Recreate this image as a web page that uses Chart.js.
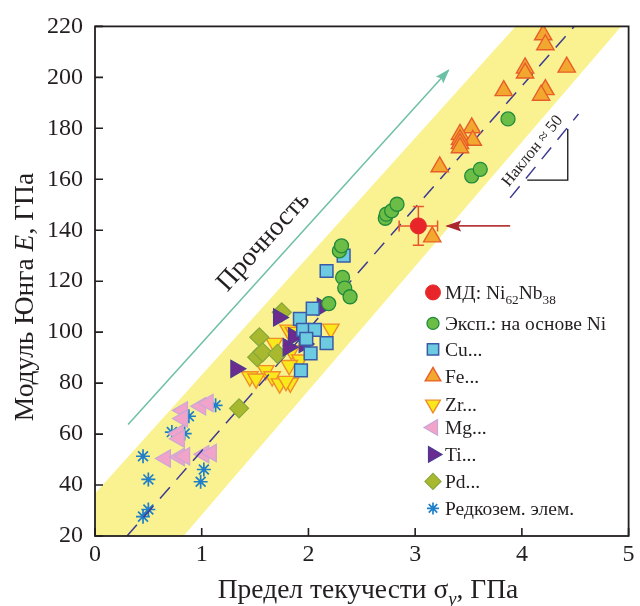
<!DOCTYPE html>
<html>
<head>
<meta charset="utf-8">
<script src="https://cdn.jsdelivr.net/npm/chart.js@4.4.1/dist/chart.umd.min.js"></script>
<style>
  html, body { margin: 0; padding: 0; background: #fff; }
</style>
</head>
<body>
<canvas id="chart" width="640" height="606"></canvas>
<script>
// Модуль Юнга vs предел текучести

const FONT = "'Liberation Serif', 'Times New Roman', serif";
const INK = '#231f20';

// оси
const xTicks = [0, 1, 2, 3, 4, 5];
const yTicks = [20, 40, 60, 80, 100, 120, 140, 160, 180, 200, 220];

// МД: Ni62Nb38 (с погрешностью)
const mdX = [3.03];
const mdY = [141.7];
const mdErrX = [0.18];
const mdErrY = [7.6];

// эксперимент, сплавы на основе Ni
const niX = [2.19, 2.29, 2.31, 2.32, 2.34, 2.39, 2.72, 2.73, 2.78, 2.83, 3.53, 3.61, 3.87];
const niY = [111.2, 131.9, 133.9, 121.5, 117.3, 113.9, 144.7, 146.3, 147.6, 150.2, 161.3, 163.9, 183.7];

// Cu
const cuX = [2.33, 2.17, 2.04, 1.92, 1.95, 2.06, 1.98, 2.17, 2.02, 1.93];
const cuY = [130, 124, 109.2, 105.2, 100.9, 100.9, 97.4, 95.7, 91.7, 85];

// Fe
const feX = [4.20, 4.22, 4.03, 4.03, 4.42, 3.83, 4.22, 4.18, 3.53, 3.42, 3.54, 3.42, 3.42, 3.42, 3.23, 3.16];
const feY = [216.7, 212.8, 203.7, 201.7, 204, 194.8, 195.2, 193, 180.2, 177.6, 175.3, 175.6, 174, 172.4, 164.9, 137.4];

// Zr
const zrX = [2.21, 1.81, 1.86, 1.68, 1.84, 1.92, 1.82, 1.60, 1.45, 1.51, 1.66, 1.73, 1.83, 1.79];
const zrY = [101.3, 100.9, 100, 95.7, 92.8, 89.2, 87, 85, 82.6, 81.7, 82.6, 79.8, 80.1, 80.8];

// Mg
const mgX = [0.82, 0.99, 1.06, 0.82, 0.78, 0.79, 0.66, 0.79, 0.84, 1.02, 1.09];
const mgY = [69.3, 70.9, 72.2, 66.1, 60.2, 58.2, 50.4, 51, 51.3, 52.1, 52.6];

// Ti
const tiX = [1.32, 1.72, 1.81, 1.86, 1.96, 2.13];
const tiY = [85.6, 105.8, 94.1, 98.3, 95.4, 110];

// Pd
const pdX = [1.35, 1.54, 1.52, 1.57, 1.71, 1.75];
const pdY = [70.1, 98, 90.2, 92.1, 91.5, 107.8];

// редкоземельные
const reX = [1.13, 0.88, 0.72, 0.84, 0.45, 1.02, 0.99, 0.50, 0.50, 0.45];
const reY = [71.3, 67, 60.8, 60.2, 51.3, 46.1, 41.3, 42.2, 30.4, 27.6];

// жёлтая полоса (контур)
const bandX = [0, 3.94, 4.93, 0.83, 0];
const bandY = [36.7, 220, 220, 20, 20];

// пунктир, наклон ~50
const fitX = [0.30, 4.49];
const fitY = [20, 220];

// стрелка «Прочность»
const strengthX = [0.31, 3.31];
const strengthY = [63.8, 202.7];

// стрелка к точке МД
const mdArrowX = [3.89, 3.30];
const mdArrowY = [141.7, 141.7];

// метка наклона: отрезок и уголок
const slopeX = [3.89, 4.53];
const slopeY = [152.7, 185.6];
const bracketX = [4.05, 4.43, 4.43];
const bracketY = [159.7, 159.7, 179.7];

function pts(xs, ys) {
  return xs.map((x, i) => ({ x: x, y: ys[i] }));
}

function series(label, xs, ys, style, rot, r, fill, stroke, bw) {
  return {
    type: 'scatter',
    label: label,
    data: pts(xs, ys),
    pointStyle: style,
    rotation: rot,
    pointRadius: r,
    backgroundColor: fill,
    borderColor: stroke,
    borderWidth: bw,
    order: 0
  };
}

function lineSet(xs, ys, color, width, dash) {
  return {
    type: 'line',
    data: pts(xs, ys),
    borderColor: color,
    borderWidth: width,
    borderDash: dash || [],
    pointRadius: 0,
    fill: false,
    tension: 0,
    order: 5
  };
}

const markerSets = [
  series('МД: Ni₆₂Nb₃₈', mdX, mdY, 'circle', 0, 8, '#e8262a', '#e8262a', 1),
  series('Эксп.: на основе Ni', niX, niY, 'circle', 0, 7, '#6cbd45', '#1f8a3b', 1.3),
  series('Cu...', cuX, cuY, 'rect', 0, 9, '#6ccbe0', '#3b5ba8', 1.5),
  series('Fe...', feX, feY, 'triangle', 0, 10, '#f2a82f', '#e85e2a', 1.4),
  series('Zr...', zrX, zrY, 'triangle', 180, 9.5, '#f9e81b', '#f08c2a', 1.4),
  series('Mg...', mgX, mgY, 'triangle', -90, 10, '#f2a3c9', '#c9a7d6', 1.2),
  series('Ti...', tiX, tiY, 'triangle', 90, 10, '#6b2b8f', '#4a3a92', 1.2),
  series('Pd...', pdX, pdY, 'rectRot', 0, 9.5, '#a9b92f', '#86a83a', 1.2),
  series('Редкозем. элем.', reX, reY, 'star', 0, 7, '#1f7fc9', '#1f7fc9', 1.7)
];
// первая в списке рисуется сверху
const drawOrder = [0, 1, 3, 2, 7, 6, 4, 5, 8];

const datasets = [];
markerSets.forEach((s, i) => { s.order = drawOrder[i]; datasets.push(s); });
datasets.push(lineSet(fitX, fitY, '#3c3a94', 1.5, [15, 10]));
datasets.push(lineSet(slopeX, slopeY, '#3c3a94', 1.5, [15, 10]));
datasets.push(lineSet(bracketX, bracketY, '#111', 1.3));
datasets.push(lineSet(strengthX, strengthY, '#6dbfa5', 1.5));
datasets.push(lineSet(mdArrowX, mdArrowY, '#b83a3a', 1.6));
datasets.push({
  type: 'line',
  data: pts(bandX, bandY),
  borderWidth: 0,
  borderColor: 'rgba(0,0,0,0)',
  backgroundColor: '#faf290',
  pointRadius: 0,
  fill: 'shape',
  tension: 0,
  order: 20
});

const MD_INDEX = 0;

function px(chart, x, y) {
  return [chart.scales.x.getPixelForValue(x), chart.scales.y.getPixelForValue(y)];
}

function arrowHead(ctx, from, to, len, half, color) {
  const a = Math.atan2(to[1] - from[1], to[0] - from[0]);
  ctx.save();
  ctx.translate(to[0], to[1]);
  ctx.rotate(a);
  ctx.beginPath();
  ctx.moveTo(2, 0);
  ctx.lineTo(-len, -half);
  ctx.lineTo(-len * 0.8, 0);
  ctx.lineTo(-len, half);
  ctx.closePath();
  ctx.fillStyle = color;
  ctx.fill();
  ctx.restore();
}

// текст с курсивом и нижними индексами
function richText(ctx, parts, x, y, size) {
  const fontFor = p => (p.it ? 'italic ' : '') + (p.sub ? size * 0.68 : size) + 'px ' + FONT;
  let w = 0;
  parts.forEach(p => { ctx.font = fontFor(p); p.w = ctx.measureText(p.t).width; w += p.w; });
  let cx = x - (parts.align === 'left' ? 0 : w / 2);
  parts.forEach(p => {
    ctx.font = fontFor(p);
    ctx.fillText(p.t, cx, y + (p.sub ? size * 0.25 : 0));
    cx += p.w;
  });
}

function splitSub(label) {
  const parts = [];
  const subs = '₀₁₂₃₄₅₆₇₈₉';
  const digits = '0123456789';
  for (const ch of label) {
    const isSub = subs.includes(ch);
    const c = isSub ? digits[subs.indexOf(ch)] : ch;
    const last = parts[parts.length - 1];
    if (last && last.sub === isSub) last.t += c;
    else parts.push({ t: c, sub: isSub });
  }
  return parts;
}

const decor = {
  id: 'decor',
  beforeDatasetDraw(chart, args) {
    if (args.index !== MD_INDEX) return;
    const ctx = chart.ctx;
    ctx.save();
    ctx.strokeStyle = '#e9552c';
    ctx.lineWidth = 1.5;
    for (let i = 0; i < mdX.length; i++) {
      const l = px(chart, mdX[i] - mdErrX[i], mdY[i]);
      const r = px(chart, mdX[i] + mdErrX[i], mdY[i]);
      const t = px(chart, mdX[i], mdY[i] + mdErrY[i]);
      const b = px(chart, mdX[i], mdY[i] - mdErrY[i]);
      const cap = 5.5;
      ctx.beginPath();
      ctx.moveTo(l[0], l[1]); ctx.lineTo(r[0], r[1]);
      ctx.moveTo(l[0], l[1] - cap); ctx.lineTo(l[0], l[1] + cap);
      ctx.moveTo(r[0], r[1] - cap); ctx.lineTo(r[0], r[1] + cap);
      ctx.moveTo(t[0], t[1]); ctx.lineTo(b[0], b[1]);
      ctx.moveTo(t[0] - cap, t[1]); ctx.lineTo(t[0] + cap, t[1]);
      ctx.moveTo(b[0] - cap, b[1]); ctx.lineTo(b[0] + cap, b[1]);
      ctx.stroke();
    }
    ctx.restore();
  },
  afterDatasetsDraw(chart) {
    const ctx = chart.ctx;
    const area = chart.chartArea;
    const sx = chart.scales.x, sy = chart.scales.y;
    ctx.save();

    // стрелки
    const n = strengthX.length - 1;
    arrowHead(ctx, px(chart, strengthX[n - 1], strengthY[n - 1]), px(chart, strengthX[n], strengthY[n]), 13, 5, '#6dbfa5');
    const m = mdArrowX.length - 1;
    arrowHead(ctx, px(chart, mdArrowX[m - 1], mdArrowY[m - 1]), px(chart, mdArrowX[m], mdArrowY[m]), 14, 5.5, '#a8282c');

    // подписи
    ctx.fillStyle = INK;
    ctx.textAlign = 'center';
    ctx.textBaseline = 'middle';
    const a0 = px(chart, strengthX[0], strengthY[0]);
    const a1 = px(chart, strengthX[n], strengthY[n]);
    const pStr = px(chart, 1.58, 135.5);
    ctx.save();
    ctx.translate(pStr[0], pStr[1]);
    ctx.rotate(Math.atan2(a1[1] - a0[1], a1[0] - a0[0]));
    ctx.font = '27px ' + FONT;
    ctx.fillText('Прочность', 0, 0);
    ctx.restore();

    const s0 = px(chart, slopeX[0], slopeY[0]);
    const s1 = px(chart, slopeX[1], slopeY[1]);
    const pSl = px(chart, 4.1, 171.1);
    ctx.save();
    ctx.translate(pSl[0], pSl[1]);
    ctx.rotate(Math.atan2(s1[1] - s0[1], s1[0] - s0[0]));
    ctx.font = '16.5px ' + FONT;
    ctx.fillText('Наклон ≈ 50', 0, 0);
    ctx.restore();

    // рамка и внутренние засечки
    ctx.strokeStyle = INK;
    ctx.lineWidth = 1.6;
    ctx.beginPath();
    xTicks.forEach(v => {
      const x = sx.getPixelForValue(v);
      ctx.moveTo(x, area.bottom); ctx.lineTo(x, area.bottom - 8);
    });
    yTicks.forEach(v => {
      const y = sy.getPixelForValue(v);
      ctx.moveTo(area.left, y); ctx.lineTo(area.left + 8, y);
    });
    ctx.stroke();
    ctx.lineWidth = 1.8;
    ctx.strokeRect(area.left, area.top, area.right - area.left, area.bottom - area.top);
    ctx.restore();
  },
  afterDraw(chart) {
    const ctx = chart.ctx;
    const area = chart.chartArea;
    ctx.save();
    ctx.fillStyle = INK;
    ctx.textBaseline = 'alphabetic';

    // легенда
    const mx = area.left + 338;
    const tx = area.left + 350;
    const rows = [266, 297, 323, 350, 378, 401, 428, 455, 482];
    const legR = [7.5, 6, 8, 9, 8.5, 9, 9, 8, 6];
    markerSets.forEach((s, i) => {
      const y = area.top + rows[i];
      ctx.fillStyle = s.backgroundColor;
      ctx.strokeStyle = s.borderColor;
      ctx.lineWidth = s.borderWidth;
      Chart.helpers.drawPoint(ctx, {
        pointStyle: s.pointStyle,
        rotation: s.rotation,
        radius: legR[i],
        borderWidth: s.borderWidth
      }, mx, y);
      ctx.fillStyle = INK;
      const parts = splitSub(s.label);
      parts.align = 'left';
      richText(ctx, parts, tx, y + 6.5, 19.5);
    });

    // подписи осей
    ctx.fillStyle = INK;
    const xt = [
      { t: 'Предел текучести σ' }, { t: 'y', it: true, sub: true }, { t: ', ГПа' }
    ];
    richText(ctx, xt, 368, 598, 27.5);

    ctx.save();
    ctx.translate(33, 297);
    ctx.rotate(-Math.PI / 2);
    const yt = [{ t: 'Модуль Юнга ' }, { t: 'E', it: true }, { t: ', ГПа' }];
    richText(ctx, yt, 0, 0, 27.5);
    ctx.restore();
    ctx.restore();
  }
};

new Chart(document.getElementById('chart'), {
  type: 'scatter',
  data: { datasets: datasets },
  options: {
    responsive: false,
    animation: false,
    events: [],
    layout: { padding: { left: 0, right: 8, top: 25, bottom: 0 } },
    plugins: {
      legend: { display: false },
      tooltip: { enabled: false },
      filler: { propagate: false }
    },
    scales: {
      x: {
        type: 'linear',
        min: xTicks[0],
        max: xTicks[xTicks.length - 1],
        afterBuildTicks: s => { s.ticks = xTicks.map(v => ({ value: v })); },
        ticks: { font: { family: FONT, size: 24 }, color: INK, padding: 4 },
        grid: { display: false, drawTicks: false },
        border: { display: false },
        afterFit: s => { s.height = 70; }
      },
      y: {
        type: 'linear',
        min: yTicks[0],
        max: yTicks[yTicks.length - 1],
        afterBuildTicks: s => { s.ticks = yTicks.map(v => ({ value: v })); },
        ticks: { font: { family: FONT, size: 24 }, color: INK, padding: 12 },
        grid: { display: false, drawTicks: false },
        border: { display: false },
        afterFit: s => { s.width = 95; }
      }
    }
  },
  plugins: [decor]
});
</script>
</body>
</html>
